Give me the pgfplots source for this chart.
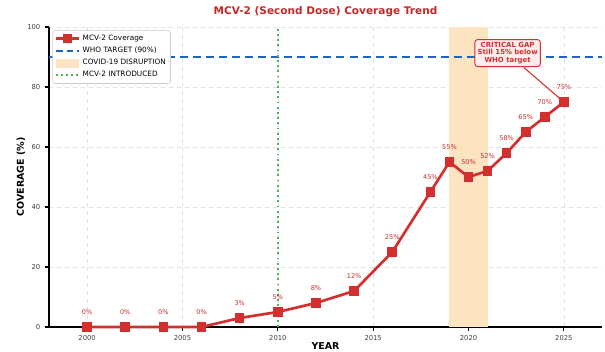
\documentclass[border=0pt]{standalone}
\usepackage{pgfplots}
\pgfplotsset{compat=1.18}
\usepackage{fontspec}
\setmainfont{DejaVu Sans}
\definecolor{linered}{RGB}{211,47,47}
\definecolor{labelred}{RGB}{196,50,50}
\definecolor{titlered}{RGB}{198,40,40}
\definecolor{whoblue}{RGB}{30,101,192}
\definecolor{covid}{RGB}{252,228,192}
\definecolor{introgreen}{RGB}{76,175,80}
\definecolor{boxfill}{RGB}{253,236,236}
\pgfplotstableread{
year cov
2000 0
2002 0
2004 0
2006 0
2008 3
2010 5
2012 8
2014 12
2016 25
2018 45
2019 55
2020 50
2021 52
2022 58
2023 65
2024 70
2025 75
}\covtable
\begin{document}
\begin{tikzpicture}
\begin{axis}[
  width=414.75pt, height=225pt, scale only axis,
  xmin=1998, xmax=2027, ymin=0, ymax=100,
  axis lines=left, axis line style={-, line width=1.3pt, black},
  xtick={2000,2005,...,2025}, ytick={0,20,...,100},
  xticklabel style={/pgf/number format/1000 sep={}},
  /pgf/number format/assume math mode=true,
  tick label style={font=\fontsize{5.1}{6}\selectfont, text=black!75},
  tick align=outside, tickwidth=3pt,
  major tick style={line width=0.8pt, black},
  grid=major, grid style={dashed, line width=0.4pt, black!12},
  ylabel={COVERAGE (\%)}, xlabel={YEAR},
  ylabel style={font=\fontsize{7.1}{8}\selectfont\bfseries, at={(axis description cs:-0.0506,0.5)}, anchor=center},
  xlabel style={font=\fontsize{7.1}{8}\selectfont\bfseries, at={(axis description cs:0.5,0)}, anchor=center, yshift=-14.6pt},
  legend style={at={(axis description cs:0.006,0.99)}, anchor=north west,
    font=\fontsize{5.5}{6.5}\selectfont, draw=black!20, rounded corners=2pt,
    row sep=-0.5pt, inner sep=1.5pt},
  legend cell align=left,
  clip=false,
]
\coordinate (ll) at (rel axis cs:0,0);
\coordinate (ur) at (rel axis cs:1,1);
% legend entries
\addlegendimage{linered, line width=2pt, mark=square*, mark size=2.2pt, mark options={solid}, sharp corners}
\addlegendentry{MCV-2 Coverage}
\addlegendimage{whoblue, line width=1.6pt, dash pattern=on 5pt off 3pt, sharp corners}
\addlegendentry{WHO TARGET (90\%)}
\addlegendimage{area legend, fill=covid, draw=covid, sharp corners}
\addlegendentry{COVID-19 DISRUPTION}
\addlegendimage{introgreen, line width=1.6pt, dash pattern=on 1.3pt off 2.5pt, sharp corners}
\addlegendentry{MCV-2 INTRODUCED}
% covid span
\addplot[fill=covid, draw=none, forget plot] coordinates {(2019,0) (2021,0) (2021,100) (2019,100)} -- cycle;
% WHO target
\addplot[whoblue, line width=1.6pt, dash pattern=on 6pt off 3.8pt, forget plot] coordinates {(1998,90) (2027,90)};
% intro line
\addplot[introgreen, line width=1.6pt, dash pattern=on 1.3pt off 2.6pt, forget plot] coordinates {(2010,0) (2010,100)};
% main series
\addplot[linered, line width=2pt, mark=square*, mark size=2.6pt, mark options={solid},
  nodes near coords={\pgfmathprintnumber[fixed,precision=0]{\pgfplotspointmeta}\%},
  point meta=y,
  every node near coord/.append style={font=\fontsize{4.9}{5.5}\selectfont, text=labelred, anchor=south, yshift=5.2pt},
  forget plot] table[x=year, y=cov] {\covtable};
% annotation
\draw[linered, line width=0.8pt] (axis cs:2022.9,86.5) -- (axis cs:2025,75);
\node[draw=linered, line width=0.7pt, fill=boxfill, rounded corners=2pt, align=center,
  font=\fontsize{5.2}{5.6}\selectfont\bfseries, text=linered, inner sep=2pt]
  at (axis cs:2022.05,91.3) {CRITICAL GAP\\Still 15\% below\\WHO target};
\node[font=\fontsize{7.9}{9}\selectfont\bfseries, text=titlered] at (rel axis cs:0.5,1) [yshift=11.25pt] {MCV-2 (Second Dose) Coverage Trend};
\end{axis}
\pgfresetboundingbox
\path[use as bounding box] ([xshift=-36.75pt,yshift=-18.75pt]ll) rectangle ([xshift=2.25pt,yshift=20.25pt]ur);
\end{tikzpicture}
\end{document}
